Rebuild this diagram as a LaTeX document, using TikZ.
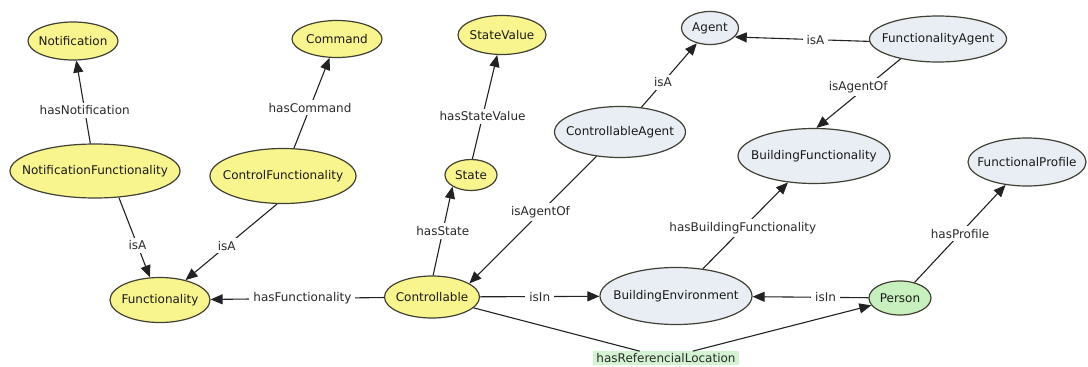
\documentclass[tikz,border=0pt]{standalone}
\usepackage{fontspec}
\setmainfont{DejaVu Sans}
\usetikzlibrary{shapes.geometric,arrows.meta}
\definecolor{yelfill}{HTML}{F9F58E}
\definecolor{blufill}{HTML}{E8EEF3}
\definecolor{grnfill}{HTML}{C8F0BE}
\definecolor{lgrn}{HTML}{D3F3D3}
\definecolor{bordc}{HTML}{404034}
\definecolor{edgec}{HTML}{222222}
\definecolor{textc}{HTML}{1A1A1A}
\definecolor{labc}{HTML}{2A2A2A}
\newcommand\zw[1]{\makebox[0pt]{#1}}
\begin{document}
\begin{tikzpicture}[x=1pt,y=-1pt,
  concept/.style={ellipse, draw=bordc, line width=1.2pt, inner sep=0pt, font=\fontsize{12}{14}\selectfont, text=textc},
  yc/.style={concept, fill=yelfill},
  bc/.style={concept, fill=blufill},
  gc/.style={concept, fill=grnfill},
  rel/.style={draw=edgec, line width=1.1pt, -{Triangle[length=12pt,width=10pt]}},
  plainline/.style={draw=edgec, line width=1.1pt},
  lab/.style={fill=white, inner xsep=4pt, inner ysep=3pt, font=\fontsize{12}{14}\selectfont, text=labc}]
\useasboundingbox (0,0) rectangle (1088,367);
\fill[white] (0,0) rectangle (1088,367);

% concepts
\node[yc, minimum width=90pt, minimum height=38pt] (notif) at (73,41) {\zw{Notification}};
\node[yc, minimum width=90pt, minimum height=37pt] (cmd) at (337,39) {\zw{Command}};
\node[yc, minimum width=88pt, minimum height=39pt] (sv) at (502,35) {\zw{StateValue}};
\node[bc, minimum width=57pt, minimum height=33pt] (agent) at (710,28) {\zw{Agent}};
\node[bc, minimum width=137pt, minimum height=46pt] (fa) at (938,39) {\zw{FunctionalityAgent}};
\node[yc, minimum width=170pt, minimum height=54pt] (nf) at (95,171) {\zw{NotificationFunctionality}};
\node[yc, minimum width=146pt, minimum height=55pt] (cf) at (283,176) {\zw{ControlFunctionality}};
\node[yc, minimum width=52pt, minimum height=31pt] (state) at (471,175) {\zw{State}};
\node[bc, minimum width=131pt, minimum height=51pt] (ca) at (620,132) {\zw{ControllableAgent}};
\node[bc, minimum width=152pt, minimum height=55pt] (bf) at (814,156) {\zw{BuildingFunctionality}};
\node[bc, minimum width=118pt, minimum height=48pt] (fp) at (1027,162) {\zw{FunctionalProfile}};
\node[yc, minimum width=100pt, minimum height=45pt] (func) at (160,300) {\zw{Functionality}};
\node[yc, minimum width=95pt, minimum height=42pt] (ctrl) at (432,297) {\zw{Controllable}};
\node[bc, minimum width=152pt, minimum height=57pt] (be) at (676,296) {\zw{BuildingEnvironment}};
\node[gc, minimum width=62pt, minimum height=34pt] (person) at (900,298) {\zw{Person}};
\node[lab, fill=lgrn, inner xsep=3pt, inner ysep=2pt] (hrl) at (666,358) {hasReferencialLocation};

% relations
\draw[rel] (nf) -- node[lab,pos=0.4]{hasNotification} (notif);
\draw[rel] (cf) -- node[lab,pos=0.45]{hasCommand} (cmd);
\draw[rel] (state.85) -- node[lab,pos=0.41]{hasStateValue} (sv);
\draw[rel] (ca) -- node[lab,pos=0.39]{isA} (agent);
\draw[rel] (fa.182) -- node[lab,pos=0.40]{isA} (agent.-20);
\draw[rel] (fa.208) -- node[lab,pos=0.41,xshift=-8pt]{isAgentOf} (bf.85);
\draw[rel] (ca.226) -- node[lab,pos=0.44]{isAgentOf} (ctrl.20);
\draw[rel] (ctrl.87) -- node[lab,pos=0.5]{hasState} (state.212);
\draw[rel] (nf.-48) -- node[lab,pos=0.6]{isA} (func.114);
\draw[rel] (cf.258) -- node[lab,pos=0.55]{isA} (func.38);
\draw[rel] (ctrl) -- node[lab,pos=0.47]{hasFunctionality} (func);
\draw[rel] (ctrl) -- node[lab]{isIn} (be);
\draw[rel] (person) -- node[lab,pos=0.37]{isIn} (be);
\draw[rel] (be) -- node[lab,pos=0.47]{hasBuildingFunctionality} (bf);
\draw[rel] (person) -- node[lab]{hasProfile} (fp);
\draw[plainline] (ctrl) -- (hrl);
\draw[rel] (hrl) -- (person);
\end{tikzpicture}
\end{document}
